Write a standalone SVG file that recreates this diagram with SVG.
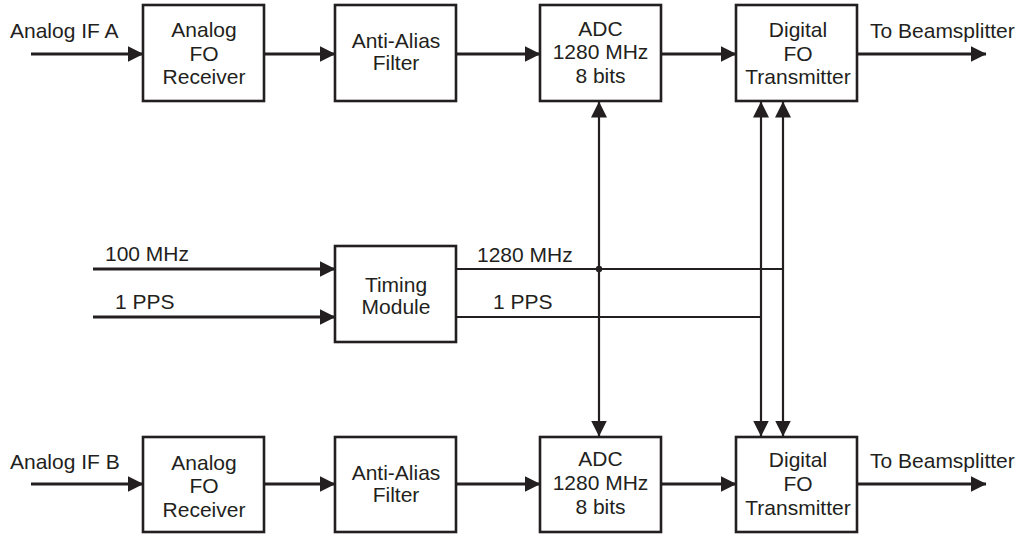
<svg xmlns="http://www.w3.org/2000/svg" width="1022" height="535" viewBox="0 0 1022 535">
<style>
.box{fill:#fff;stroke:#231f20;stroke-width:2.6}
.t{font-family:"Liberation Sans",Arial,Helvetica,sans-serif;font-size:21px;fill:#231f20}
.c{text-anchor:middle}
.sig{stroke:#231f20;stroke-width:3;fill:none}
.dist{stroke:#231f20;stroke-width:2.2;fill:none}
</style>
<defs>
<marker id="ah" markerUnits="userSpaceOnUse" viewBox="0 0 16 16" markerWidth="16" markerHeight="16" refX="15.5" refY="8" orient="auto-start-reverse">
<path d="M0,0 L16,8 L0,16 z" fill="#231f20"/>
</marker>
</defs>
<rect width="1022" height="535" fill="#fff"/>
<g id="connectors">
<line class="sig" x1="31" y1="54" x2="143" y2="54" marker-end="url(#ah)"/>
<line class="sig" x1="264" y1="54" x2="335" y2="54" marker-end="url(#ah)"/>
<line class="sig" x1="456" y1="54" x2="540" y2="54" marker-end="url(#ah)"/>
<line class="sig" x1="661" y1="54" x2="736" y2="54" marker-end="url(#ah)"/>
<line class="sig" x1="857" y1="54" x2="986" y2="54" marker-end="url(#ah)"/>
<line class="sig" x1="31" y1="484" x2="143" y2="484" marker-end="url(#ah)"/>
<line class="sig" x1="264" y1="484" x2="335" y2="484" marker-end="url(#ah)"/>
<line class="sig" x1="456" y1="484" x2="540" y2="484" marker-end="url(#ah)"/>
<line class="sig" x1="661" y1="484" x2="736" y2="484" marker-end="url(#ah)"/>
<line class="sig" x1="857" y1="484" x2="986" y2="484" marker-end="url(#ah)"/>
<line class="sig" x1="93" y1="269" x2="335" y2="269" marker-end="url(#ah)"/>
<line class="sig" x1="93" y1="317" x2="335" y2="317" marker-end="url(#ah)"/>
<line class="dist" x1="456" y1="269" x2="784" y2="269"/>
<line class="dist" x1="456" y1="317" x2="762" y2="317"/>
<line class="dist" x1="599" y1="102" x2="599" y2="436" marker-start="url(#ah)" marker-end="url(#ah)"/>
<line class="dist" x1="761" y1="102" x2="761" y2="436" marker-start="url(#ah)" marker-end="url(#ah)"/>
<line class="dist" x1="783" y1="102" x2="783" y2="436" marker-start="url(#ah)" marker-end="url(#ah)"/>
<circle cx="599" cy="269" r="3.2" fill="#231f20"/>
<text class="t" x="10" y="38">Analog IF A</text>
<text class="t" x="10" y="469">Analog IF B</text>
<text class="t" x="870" y="38">To Beamsplitter</text>
<text class="t" x="870" y="468">To Beamsplitter</text>
<text class="t" x="105" y="261">100 MHz</text>
<text class="t" x="115" y="309">1 PPS</text>
<text class="t" x="477" y="262">1280 MHz</text>
<text class="t" x="493" y="309">1 PPS</text>
</g>
<g id="afr-a">
<rect class="box" x="143" y="5" width="121" height="96"/>
<text class="t c" x="204" y="36.5">Analog</text>
<text class="t c" x="204" y="60.5">FO</text>
<text class="t c" x="204" y="83.5">Receiver</text>
</g>
<g id="aaf-a">
<rect class="box" x="335" y="5" width="121" height="96"/>
<text class="t c" x="396" y="48">Anti-Alias</text>
<text class="t c" x="396" y="70">Filter</text>
</g>
<g id="adc-a">
<rect class="box" x="540" y="5" width="121" height="96"/>
<text class="t c" x="600.5" y="35.5">ADC</text>
<text class="t c" x="600.5" y="59">1280 MHz</text>
<text class="t c" x="600.5" y="83">8 bits</text>
</g>
<g id="dft-a">
<rect class="box" x="736" y="5" width="121" height="96"/>
<text class="t c" x="798" y="36.5">Digital</text>
<text class="t c" x="798" y="60.5">FO</text>
<text class="t c" x="798" y="84">Transmitter</text>
</g>
<g id="timing">
<rect class="box" x="335" y="246" width="121" height="96"/>
<text class="t c" x="396" y="292">Timing</text>
<text class="t c" x="396" y="313.5">Module</text>
</g>
<g id="afr-b">
<rect class="box" x="143" y="437" width="121" height="95"/>
<text class="t c" x="204" y="469.5">Analog</text>
<text class="t c" x="204" y="493">FO</text>
<text class="t c" x="204" y="516.5">Receiver</text>
</g>
<g id="aaf-b">
<rect class="box" x="335" y="437" width="121" height="95"/>
<text class="t c" x="396" y="480">Anti-Alias</text>
<text class="t c" x="396" y="502">Filter</text>
</g>
<g id="adc-b">
<rect class="box" x="540" y="437" width="121" height="95"/>
<text class="t c" x="600.5" y="466">ADC</text>
<text class="t c" x="600.5" y="490">1280 MHz</text>
<text class="t c" x="600.5" y="514">8 bits</text>
</g>
<g id="dft-b">
<rect class="box" x="736" y="437" width="121" height="95"/>
<text class="t c" x="798" y="467">Digital</text>
<text class="t c" x="798" y="491">FO</text>
<text class="t c" x="798" y="514.5">Transmitter</text>
</g>
</svg>
